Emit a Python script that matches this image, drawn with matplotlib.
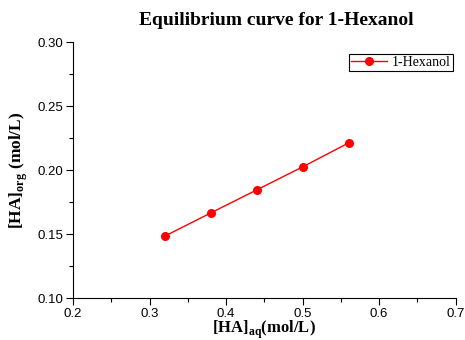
import matplotlib
matplotlib.use("Agg")
import matplotlib.pyplot as plt
from matplotlib.ticker import MultipleLocator

plt.rcParams['mathtext.fontset'] = 'custom'
plt.rcParams['mathtext.bf'] = 'Liberation Serif:bold'
plt.rcParams['mathtext.rm'] = 'Liberation Serif'

# data
ha_aq = [0.32, 0.38, 0.44, 0.50, 0.56]
ha_org = [0.1484, 0.1665, 0.1845, 0.2025, 0.2212]

fig = plt.figure(figsize=(4.65, 3.40), dpi=100)
ax = fig.add_axes([0.157, 0.1235, 0.823, 0.7525])

ax.plot(ha_aq, ha_org, color='red', lw=1, marker='o', ms=5.5, label='1-Hexanol')

ax.set_xlim(0.2, 0.7)
ax.set_ylim(0.10, 0.30)
ax.xaxis.set_major_locator(MultipleLocator(0.1))
ax.xaxis.set_minor_locator(MultipleLocator(0.05))
ax.yaxis.set_major_locator(MultipleLocator(0.05))
ax.yaxis.set_minor_locator(MultipleLocator(0.025))
ax.xaxis.set_major_formatter(plt.FormatStrFormatter('%.1f'))
ax.yaxis.set_major_formatter(plt.FormatStrFormatter('%.2f'))

for s in ['top', 'right']:
    ax.spines[s].set_visible(False)
for s in ['left', 'bottom']:
    ax.spines[s].set_linewidth(0.8)

ax.tick_params(which='major', direction='out', length=5, width=0.8, labelsize=9.5, pad=2)
ax.tick_params(which='minor', direction='out', length=3, width=0.8)
for lbl in ax.get_xticklabels() + ax.get_yticklabels():
    lbl.set_family('Liberation Sans')

ax.set_title('Equilibrium curve for 1-Hexanol', family='Liberation Serif',
             fontweight='bold', fontsize=14, pad=12, x=0.53)
ax.set_xlabel(r'[HA]$_{\mathbf{aq}}$(mol/L)', family='Liberation Serif',
              fontweight='bold', fontsize=12, labelpad=-1)
ax.set_ylabel(r'[HA]$_{\mathbf{org}}$ (mol/L)', family='Liberation Serif',
              fontweight='bold', fontsize=12.5, labelpad=5)

leg = ax.legend(loc='upper right', bbox_to_anchor=(1.01, 0.98),
                prop={'family': 'Liberation Serif', 'size': 10},
                fancybox=False, edgecolor='black', framealpha=1,
                handlelength=2.6, borderpad=0.15, handletextpad=0.3)
leg.get_frame().set_linewidth(0.8)

fig.savefig('out.png', dpi=100)
